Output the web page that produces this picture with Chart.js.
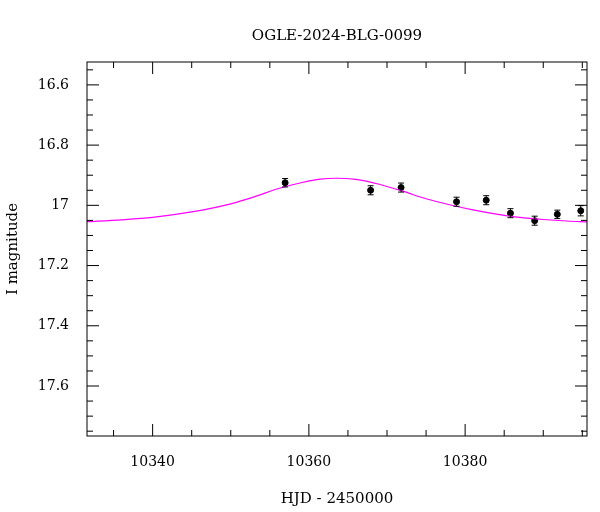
<!DOCTYPE html>
<html>
<head>
<meta charset="utf-8">
<script src="https://cdn.jsdelivr.net/npm/chart.js@4.4.0/dist/chart.umd.min.js"></script>
<style>
  body { margin: 0; background: #fff; }
  #wrap { width: 600px; height: 512px; }
</style>
</head>
<body>
<div id="wrap"><canvas id="lc"></canvas></div>
<script>
// photometry
const obsHjd = [10356.96, 10367.9, 10371.8, 10378.9, 10382.7, 10385.8, 10388.9, 10391.8, 10394.8];
const obsMag = [16.925, 16.95, 16.941, 16.988, 16.983, 17.026, 17.051, 17.03, 17.018];
const obsErr = [0.014, 0.015, 0.015, 0.015, 0.015, 0.015, 0.015, 0.014, 0.017];

// model curve samples
const modelHjd = [10331.6, 10336, 10340, 10345, 10350, 10353, 10356, 10359, 10361.5, 10363.5, 10366, 10369, 10372, 10375, 10378, 10381, 10384, 10387, 10390, 10393, 10395.6];
const modelMag = [17.054, 17.048, 17.04, 17.022, 16.995, 16.972, 16.945, 16.925, 16.913, 16.91, 16.914, 16.93, 16.953, 16.978, 16.998, 17.015, 17.029, 17.04, 17.047, 17.052, 17.055];

const xTicks = [10340, 10360, 10380];
const yTicks = [16.6, 16.8, 17, 17.2, 17.4, 17.6];

const FONT = "'DejaVu Serif', 'Liberation Serif', serif";

const errorBars = {
  id: 'errorBars',
  afterDatasetsDraw(chart) {
    const { ctx, scales: { x, y } } = chart;
    ctx.save();
    ctx.strokeStyle = '#000';
    ctx.lineWidth = 1;
    obsHjd.forEach((t, i) => {
      const px = x.getPixelForValue(t);
      const y1 = y.getPixelForValue(obsMag[i] - obsErr[i]);
      const y2 = y.getPixelForValue(obsMag[i] + obsErr[i]);
      ctx.beginPath();
      ctx.moveTo(px, y1); ctx.lineTo(px, y2);
      ctx.moveTo(px - 3, y1); ctx.lineTo(px + 3, y1);
      ctx.moveTo(px - 3, y2); ctx.lineTo(px + 3, y2);
      ctx.stroke();
    });
    ctx.restore();
  }
};

const frame = {
  id: 'frame',
  afterDraw(chart) {
    const { ctx, chartArea: a, scales: { x, y } } = chart;
    ctx.save();
    ctx.strokeStyle = '#000';
    ctx.lineWidth = 1;
    ctx.strokeRect(a.left, a.top, a.right - a.left, a.bottom - a.top);
    ctx.beginPath();
    for (let v = 10335; v <= 10395; v += 5) {
      const px = x.getPixelForValue(v);
      const len = v % 20 === 0 ? 12 : 6;
      ctx.moveTo(px, a.bottom); ctx.lineTo(px, a.bottom - len);
      ctx.moveTo(px, a.top); ctx.lineTo(px, a.top + len);
    }
    for (let k = 0; k <= 24; k++) {
      const v = 16.55 + k * 0.05;
      if (v > 17.766) break;
      const py = y.getPixelForValue(v);
      const len = k % 4 === 1 ? 12 : 6;
      ctx.moveTo(a.left, py); ctx.lineTo(a.left + len, py);
      ctx.moveTo(a.right, py); ctx.lineTo(a.right - len, py);
    }
    ctx.stroke();
    ctx.fillStyle = '#000';
    ctx.font = '15px ' + FONT;
    ctx.textAlign = 'center';
    ctx.fillText('OGLE-2024-BLG-0099', 337, 40);
    ctx.restore();
  }
};

new Chart(document.getElementById('lc'), {
  type: 'scatter',
  data: {
    datasets: [
      {
        type: 'line',
        data: modelHjd.map((t, i) => ({ x: t, y: modelMag[i] })),
        borderColor: '#ff00ff',
        borderWidth: 1.2,
        pointRadius: 0,
        tension: 0.4,
        cubicInterpolationMode: 'monotone'
      },
      {
        data: obsHjd.map((t, i) => ({ x: t, y: obsMag[i] })),
        backgroundColor: '#000',
        borderColor: '#000',
        pointRadius: 3
      }
    ]
  },
  options: {
    responsive: true,
    maintainAspectRatio: false,
    animation: false,
    layout: { padding: { top: 62, right: 13, left: 0, bottom: 0 } },
    plugins: { legend: { display: false }, tooltip: { enabled: false } },
    scales: {
      x: {
        type: 'linear',
        min: 10331.6, max: 10395.6,
        afterBuildTicks: s => { s.ticks = xTicks.map(v => ({ value: v })); },
        afterFit: s => { s.height = 76; },
        grid: { display: false },
        border: { display: false },
        ticks: { color: '#000', font: { family: FONT, size: 14 }, padding: 10, maxRotation: 0, callback: v => String(v) },
        title: { display: true, text: 'HJD - 2450000', color: '#000', font: { family: FONT, size: 15 }, padding: { top: 6 } }
      },
      y: {
        reverse: true,
        min: 16.524, max: 17.766,
        afterBuildTicks: s => { s.ticks = yTicks.map(v => ({ value: v })); },
        afterFit: s => { s.width = 87; },
        grid: { display: false },
        border: { display: false },
        ticks: { color: '#000', font: { family: FONT, size: 14 }, padding: 10, callback: v => String(Math.round(v * 10) / 10) },
        title: { display: true, text: 'I magnitude', color: '#000', font: { family: FONT, size: 15 }, padding: { bottom: 4 } }
      }
    }
  },
  plugins: [errorBars, frame]
});
</script>
</body>
</html>
